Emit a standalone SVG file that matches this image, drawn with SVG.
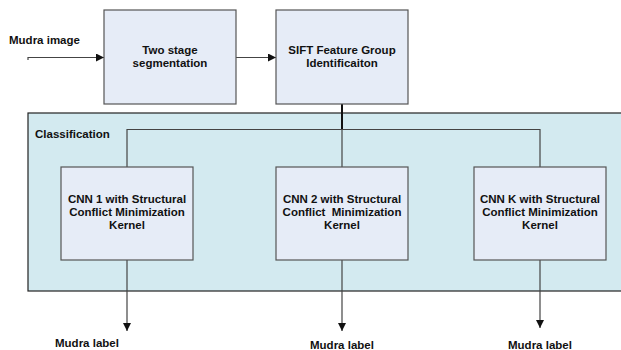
<svg xmlns="http://www.w3.org/2000/svg" width="621" height="350" viewBox="0 0 621 350">
<defs>
<style>
text{font-family:"Liberation Sans",Arial,sans-serif;font-weight:bold;font-size:11.5px;fill:#111}
.box{fill:#e6ecf7;stroke:#555;stroke-width:1.2}
.c{text-anchor:middle}
.ln{fill:none;stroke:#444;stroke-width:1.2}
</style>
<marker id="ah" viewBox="0 0 10 10" refX="10" refY="5" markerWidth="8" markerHeight="8" markerUnits="userSpaceOnUse" orient="auto">
<path d="M0,0 L10,5 L0,10 z" fill="#111"/>
</marker>
</defs>
<rect width="621" height="350" fill="#fff"/>
<g id="classification">
<rect x="28" y="113" width="600" height="178" fill="#d3eaf0" stroke="#222" stroke-width="1.2"/>
<text x="35" y="138">Classification</text>
</g>
<g id="connectors">
<path class="ln" d="M28,60 V57.5 H104" marker-end="url(#ah)"/>
<path class="ln" d="M236,57.5 H276" marker-end="url(#ah)"/>
<path d="M342,104 V129" stroke="#111" stroke-width="2" fill="none"/>
<path class="ln" d="M127,167 V129.5 H540 V167"/>
<path class="ln" d="M342,129 V167"/>
<path class="ln" d="M127,260 V331" marker-end="url(#ah)"/>
<path class="ln" d="M342,260 V331" marker-end="url(#ah)"/>
<path class="ln" d="M540,260 V328" marker-end="url(#ah)"/>
</g>
<g id="mudra-image"><text x="9" y="44">Mudra image</text></g>
<g id="segmentation">
<rect class="box" x="104" y="10" width="132" height="94"/>
<text class="c" x="170" y="54">Two stage</text>
<text class="c" x="170" y="67">segmentation</text>
</g>
<g id="sift">
<rect class="box" x="276" y="10" width="132" height="94"/>
<text class="c" x="342" y="54">SIFT Feature Group</text>
<text class="c" x="342" y="67">Identificaiton</text>
</g>
<g id="cnn1">
<rect class="box" x="61" y="167" width="132" height="93"/>
<text class="c" x="127" y="203">CNN 1 with Structural</text>
<text class="c" x="127" y="216">Conflict Minimization</text>
<text class="c" x="127" y="229">Kernel</text>
</g>
<g id="cnn2">
<rect class="box" x="276" y="167" width="132" height="93"/>
<text class="c" x="342" y="203">CNN 2 with Structural</text>
<text class="c" x="342" y="216" xml:space="preserve">Conflict  Minimization</text>
<text class="c" x="342" y="229">Kernel</text>
</g>
<g id="cnnk">
<rect class="box" x="474" y="167" width="132" height="93"/>
<text class="c" x="540" y="203">CNN K with Structural</text>
<text class="c" x="540" y="216">Conflict Minimization</text>
<text class="c" x="540" y="229">Kernel</text>
</g>
<g id="label1"><text x="55" y="347">Mudra label</text></g>
<g id="label2"><text x="310" y="349">Mudra label</text></g>
<g id="labelk"><text x="508" y="349">Mudra label</text></g>
</svg>
